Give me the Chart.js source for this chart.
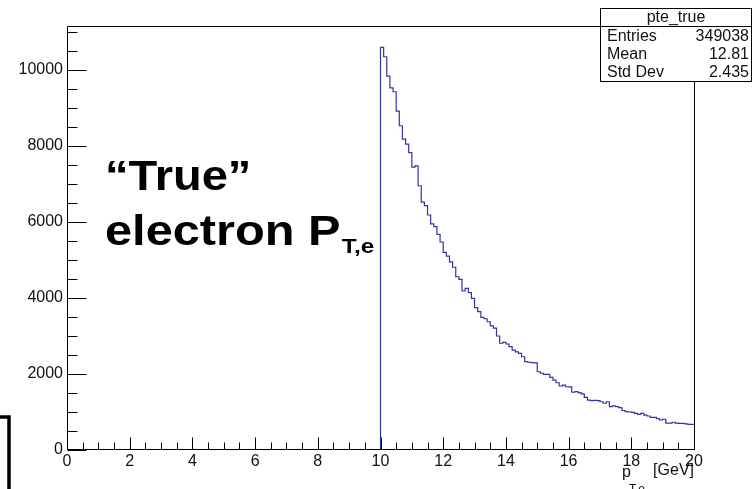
<!DOCTYPE html>
<html>
<head>
<meta charset="utf-8">
<script src="https://cdn.jsdelivr.net/npm/chart.js@4.4.0/dist/chart.umd.min.js"></script>
<style>
html, body { margin: 0; padding: 0; background: #fff; }
canvas { display: block; }
</style>
</head>
<body>
<canvas id="graficoPte" width="752" height="489"></canvas>
<script>
const histName = 'pte_true'
const statLabels = ['Entries', 'Mean', 'Std Dev']
const statValues = ['349038', '12.81', '2.435']
const xTicks = [0, 2, 4, 6, 8, 10, 12, 14, 16, 18, 20]
const yTicks = [0, 2000, 4000, 6000, 8000, 10000]
const xMinorStep = 0.5
const yMinorStep = 500

// bins of 0.1 GeV, first bin starts at 10 GeV, everything below is empty
const binStart = 10
const binWidth = 0.1
const counts = [
    10600, 10350, 9840, 9530, 9430, 8920, 8535, 8185, 8050, 7825,
    7445, 7480, 6955, 6525, 6430, 6185, 5950, 5880, 5675, 5475,
    5200, 5105, 4950, 4810, 4560, 4490, 4185, 4255, 4140, 3990,
    3745, 3640, 3490, 3455, 3375, 3265, 3210, 3000, 2810, 2835,
    2790, 2720, 2630, 2585, 2545, 2455, 2325, 2310, 2300, 2295,
    2060, 2020, 1990, 1990, 1910, 1840, 1770, 1685, 1710, 1665,
    1660, 1520, 1535, 1510, 1475, 1385, 1315, 1300, 1305, 1300,
    1270, 1230, 1270, 1140, 1160, 1140, 1115, 1040, 1010, 1000,
    990, 965, 940, 965, 920, 895, 860, 860, 825, 790,
    810, 705, 705, 730, 705, 700, 700, 690, 675, 675
]

function montaPontos() {
    let pontos = [{ x: 0, y: 0 }]
    counts.forEach((valor, i) => {
        pontos.push({ x: +(binStart + i * binWidth).toFixed(2), y: valor })
    })
    pontos.push({ x: 20, y: counts[counts.length - 1] })
    return pontos
}

const fonte = '"Liberation Sans", Arial, sans-serif'

const eixosRoot = {
    id: 'eixosRoot',
    afterDatasetsDraw(chart) {
        const ctx = chart.ctx
        const xs = chart.scales.x
        const ys = chart.scales.y
        const area = chart.chartArea
        const esq = Math.round(area.left) + 0.5
        const dir = Math.round(area.right) + 0.5
        const topo = Math.round(area.top) + 0.5
        const base = Math.round(area.bottom) - 0.5

        ctx.save()
        ctx.strokeStyle = '#000'
        ctx.lineWidth = 1

        // frame
        ctx.beginPath()
        ctx.moveTo(esq, base)
        ctx.lineTo(esq, topo)
        ctx.lineTo(dir, topo)
        ctx.lineTo(dir, base)
        ctx.stroke()
        ctx.beginPath()
        ctx.moveTo(esq, base)
        ctx.lineTo(dir, base)
        ctx.stroke()

        // x ticks
        ctx.beginPath()
        for (let v = xs.min; v <= xs.max + 1e-9; v += xMinorStep) {
            const px = Math.round(xs.getPixelForValue(v)) + 0.5
            const major = xTicks.some(t => Math.abs(t - v) < 1e-6)
            ctx.moveTo(px, base)
            ctx.lineTo(px, base - (major ? 12 : 7))
        }
        // y ticks
        for (let v = ys.min; v <= ys.max; v += yMinorStep) {
            const py = Math.round(ys.getPixelForValue(v)) + 0.5
            const major = yTicks.includes(v)
            ctx.moveTo(esq, py)
            ctx.lineTo(esq + (major ? 19 : 10), py)
        }
        ctx.stroke()

        ctx.fillStyle = '#111'
        ctx.font = '16px ' + fonte
        ctx.textAlign = 'center'
        ctx.textBaseline = 'middle'
        xTicks.forEach(t => {
            ctx.fillText(String(t), xs.getPixelForValue(t), 462)
        })
        ctx.textAlign = 'right'
        yTicks.forEach(t => {
            ctx.fillText(String(t), 63, ys.getPixelForValue(t))
        })

        // axis title p_{T,e} [GeV]
        ctx.textBaseline = 'alphabetic'
        ctx.textAlign = 'right'
        ctx.fillText('[GeV]', 694, 475)
        ctx.textAlign = 'left'
        ctx.fillText('p', 622, 477)
        ctx.font = '12px ' + fonte
        ctx.fillText('T,e', 629, 493)

        // stats box
        const bx = 600.5, by = 8.5, bw = 151, bh = 73
        ctx.fillStyle = '#fff'
        ctx.fillRect(bx, by, bw, bh)
        ctx.strokeRect(bx, by, bw, bh)
        ctx.beginPath()
        ctx.moveTo(bx, 26.5)
        ctx.lineTo(bx + bw, 26.5)
        ctx.stroke()
        ctx.fillStyle = '#111'
        ctx.font = '16px ' + fonte
        ctx.textBaseline = 'middle'
        ctx.textAlign = 'center'
        ctx.fillText(histName, bx + bw / 2, 17.5)
        statLabels.forEach((nome, i) => {
            const y = 37 + i * 18
            ctx.textAlign = 'left'
            ctx.fillText(nome, 607, y)
            ctx.textAlign = 'right'
            ctx.fillText(statValues[i], 749, y)
        })

        // annotation, a bit wider than the plain font like in the slide
        ctx.fillStyle = '#000'
        ctx.textAlign = 'left'
        ctx.textBaseline = 'alphabetic'
        ctx.font = 'bold 42px ' + fonte
        ctx.save()
        ctx.translate(105, 0)
        ctx.scale(1.12, 1)
        ctx.fillText('\u201CTrue\u201D', 0, 190)
        ctx.restore()
        ctx.save()
        ctx.translate(105, 0)
        ctx.scale(1.16, 1)
        ctx.fillText('electron P', 0, 245)
        const largura = ctx.measureText('electron P').width
        ctx.font = 'bold 21px ' + fonte
        ctx.fillText('T,e', largura + 1, 253)
        ctx.restore()

        // slide corner bracket
        ctx.beginPath()
        ctx.lineWidth = 3.5
        ctx.moveTo(0, 417)
        ctx.lineTo(9, 417)
        ctx.lineTo(9, 489)
        ctx.stroke()
        ctx.restore()
    }
}

const graficoPte = new Chart(document.getElementById('graficoPte'), {
    type: 'line',
    data: {
        datasets: [{
            label: histName,
            data: montaPontos(),
            stepped: 'before',
            borderColor: '#3333aa',
            borderWidth: 1.2,
            pointRadius: 0,
            fill: false
        }]
    },
    options: {
        responsive: false,
        animation: false,
        layout: { padding: { left: 67, right: 58, top: 26, bottom: 39 } },
        plugins: { legend: { display: false }, tooltip: { enabled: false } },
        scales: {
            x: { type: 'linear', min: 0, max: 20, display: false },
            y: { type: 'linear', min: 0, max: 11160, display: false }
        }
    },
    plugins: [eixosRoot]
});
</script>
</body>
</html>
